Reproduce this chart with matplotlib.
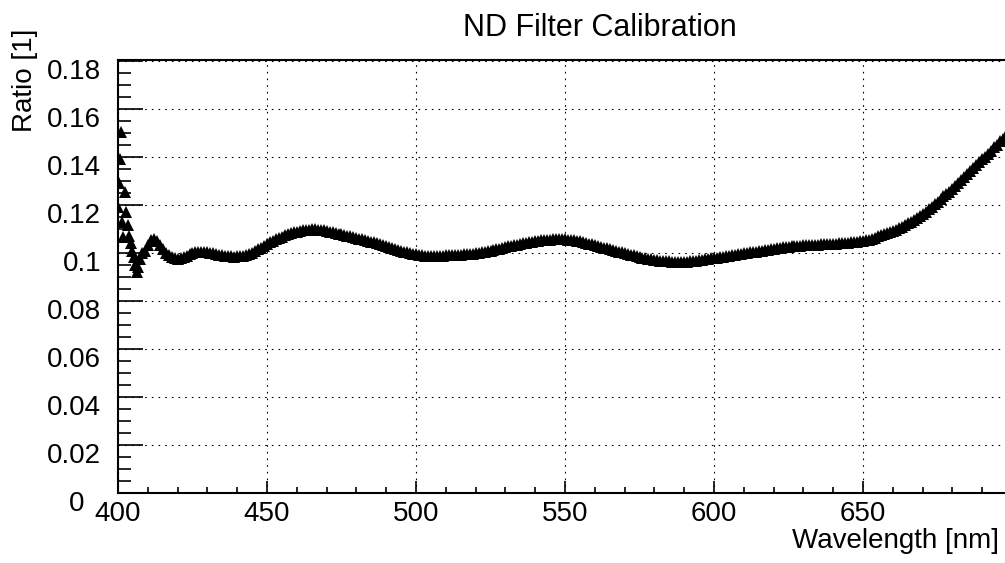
import numpy as np
import matplotlib
matplotlib.use("Agg")
import matplotlib.pyplot as plt
from matplotlib.transforms import ScaledTranslation

plt.rcParams['font.family'] = ['Liberation Sans', 'DejaVu Sans']

# noisy points at the blue end of the range
early_wl = [400.1, 400.4, 400.7, 401.0, 401.4, 401.8, 402.3, 402.8, 403.3, 403.8,
            404.3, 404.8, 405.3, 405.8, 406.3, 406.8, 407.3, 408.0, 409.0, 410.0,
            411.0, 412.0, 413.0, 414.0, 415.0]
early_ratio = [0.119, 0.129, 0.139, 0.1505, 0.113, 0.1067, 0.1255, 0.117, 0.1115, 0.107,
               0.104, 0.101, 0.0985, 0.095, 0.092, 0.094, 0.0975, 0.100, 0.101, 0.1035,
               0.1055, 0.106, 0.105, 0.1035, 0.1015]

# main band, 1 nm steps from 416 nm
main_wl = np.arange(416, 699, 1)
main_ratio = [
    0.0998, 0.0990, 0.0982, 0.0978, 0.0976, 0.0978, 0.0983, 0.0988, 0.0994, 0.0998,  # 416
    0.1002, 0.1004, 0.1006, 0.1003, 0.1002, 0.1000, 0.0998, 0.0997, 0.0993, 0.0992,  # 426
    0.0989, 0.0987, 0.0986, 0.0985, 0.0986, 0.0986, 0.0989, 0.0992, 0.0996, 0.1001,  # 436
    0.1008, 0.1015, 0.1022, 0.1030, 0.1038, 0.1045, 0.1051, 0.1057, 0.1063, 0.1068,  # 446
    0.1073, 0.1078, 0.1082, 0.1086, 0.1089, 0.1092, 0.1094, 0.1096, 0.1097, 0.1098,  # 456
    0.1098, 0.1097, 0.1096, 0.1094, 0.1092, 0.1089, 0.1087, 0.1084, 0.1081, 0.1078,  # 466
    0.1075, 0.1072, 0.1069, 0.1066, 0.1063, 0.1060, 0.1057, 0.1054, 0.1051, 0.1047,  # 476
    0.1044, 0.1040, 0.1037, 0.1033, 0.1029, 0.1025, 0.1021, 0.1017, 0.1013, 0.1009,  # 486
    0.1005, 0.1002, 0.0999, 0.0996, 0.0994, 0.0992, 0.0990, 0.0989, 0.0988, 0.0988,  # 496
    0.0988, 0.0988, 0.0988, 0.0989, 0.0990, 0.0990, 0.0991, 0.0991, 0.0992, 0.0993,  # 506
    0.0994, 0.0995, 0.0996, 0.0997, 0.0999, 0.1001, 0.1003, 0.1005, 0.1007, 0.1009,  # 516
    0.1012, 0.1015, 0.1018, 0.1021, 0.1024, 0.1027, 0.1030, 0.1033, 0.1035, 0.1038,  # 526
    0.1040, 0.1043, 0.1045, 0.1047, 0.1049, 0.1051, 0.1052, 0.1054, 0.1055, 0.1056,  # 536
    0.1057, 0.1058, 0.1058, 0.1058, 0.1057, 0.1056, 0.1055, 0.1053, 0.1050, 0.1048,  # 546
    0.1045, 0.1042, 0.1039, 0.1036, 0.1032, 0.1029, 0.1026, 0.1022, 0.1019, 0.1015,  # 556
    0.1012, 0.1009, 0.1006, 0.1003, 0.1000, 0.0996, 0.0993, 0.0990, 0.0987, 0.0984,  # 566
    0.0981, 0.0978, 0.0976, 0.0974, 0.0972, 0.0970, 0.0968, 0.0967, 0.0966, 0.0965,  # 576
    0.0964, 0.0964, 0.0963, 0.0963, 0.0964, 0.0964, 0.0965, 0.0966, 0.0968, 0.0969,  # 586
    0.0971, 0.0973, 0.0975, 0.0977, 0.0979, 0.0981, 0.0983, 0.0985, 0.0987, 0.0988,  # 596
    0.0990, 0.0992, 0.0994, 0.0996, 0.0998, 0.1000, 0.1002, 0.1004, 0.1006, 0.1008,  # 606
    0.1010, 0.1011, 0.1013, 0.1015, 0.1017, 0.1019, 0.1021, 0.1023, 0.1025, 0.1026,  # 616
    0.1028, 0.1029, 0.1030, 0.1031, 0.1032, 0.1033, 0.1034, 0.1034, 0.1035, 0.1035,  # 626
    0.1036, 0.1036, 0.1037, 0.1037, 0.1038, 0.1039, 0.1040, 0.1041, 0.1042, 0.1043,  # 636
    0.1044, 0.1046, 0.1047, 0.1049, 0.1051, 0.1053, 0.1056, 0.1060, 0.1064, 0.1069,  # 646
    0.1075, 0.1079, 0.1083, 0.1087, 0.1092, 0.1097, 0.1103, 0.1109, 0.1116, 0.1123,  # 656
    0.1130, 0.1137, 0.1145, 0.1153, 0.1161, 0.1171, 0.1182, 0.1193, 0.1204, 0.1214,  # 666
    0.1225, 0.1236, 0.1246, 0.1256, 0.1267, 0.1280, 0.1292, 0.1305, 0.1318, 0.1331,  # 676
    0.1343, 0.1355, 0.1367, 0.1379, 0.1390, 0.1402, 0.1414, 0.1427, 0.1440, 0.1452,  # 686
    0.1465, 0.1477, 0.1490,                                                          # 696
]

wl = np.concatenate([early_wl, main_wl])
ratio = np.concatenate([early_ratio, main_ratio])

fig = plt.figure(figsize=(10.05, 5.63), dpi=100)
ax = fig.add_axes([0.1174, 0.1249, 0.8896, 0.7686])

ax.plot(wl, ratio, linestyle='none', marker='^', markersize=9,
        color='black', markeredgewidth=0)

ax.set_xlim(400, 700)
ax.set_ylim(0, 0.1805)
ax.set_xticks(np.arange(400, 651, 50))
ax.set_xticks(np.arange(400, 701, 10), minor=True)
ax.set_yticks(np.arange(0, 0.181, 0.02))
ax.set_yticks(np.arange(0, 0.181, 0.005), minor=True)
ax.set_yticklabels(["0", "0.02", "0.04", "0.06", "0.08", "0.1", "0.12",
                    "0.14", "0.16", "0.18"])

ax.tick_params(axis='both', which='both', direction='in', labelsize=20,
               width=1.2, colors='black')
ax.tick_params(axis='x', which='major', length=9, pad=6)
ax.tick_params(axis='x', which='minor', length=4.5)
ax.tick_params(axis='y', which='major', length=18, pad=12)
ax.tick_params(axis='y', which='minor', length=9)

ax.grid(True, which='major', color='black', linestyle=(0, (1.5, 4.5)),
        linewidth=0.8)
for s in ax.spines.values():
    s.set_linewidth(1.5)

# ROOT-style label offsets: y labels sit a bit low, "0" sits further left
for i, tick in enumerate(ax.yaxis.get_major_ticks()):
    dx = -12 / 72 if i == 0 else 0
    tick.label1.set_transform(tick.label1.get_transform() +
                              ScaledTranslation(dx, -6 / 72, fig.dpi_scale_trans))

fig.text(0.597, 0.95, "ND Filter Calibration", ha='center', va='center',
         fontsize=22)
fig.text(0.994, 0.039, "Wavelength [nm]", ha='right', va='center', fontsize=20)
fig.text(0.025, 0.9485, "Ratio [1]", ha='center', va='top', rotation=90,
         fontsize=20)

fig.savefig("out.png", dpi=100)
